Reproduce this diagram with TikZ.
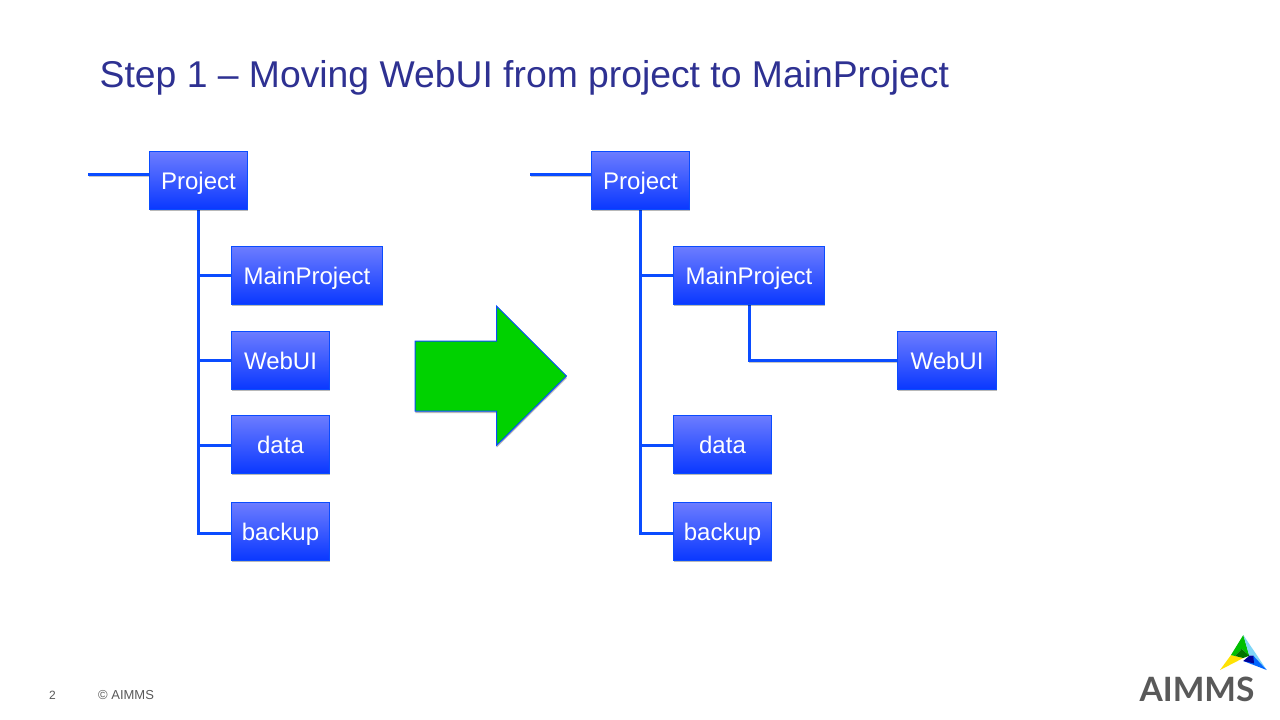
\documentclass[tikz,border=0pt]{standalone}
\usepackage{fontspec}
\setmainfont{Liberation Sans}
\newfontfamily\logofont{Lato}
\usetikzlibrary{shadows}
\definecolor{titleblue}{HTML}{2E3192}
\definecolor{linkblue}{HTML}{0A4CFF}
\definecolor{boxtop}{HTML}{6C7CFF}
\definecolor{boxbottom}{HTML}{0A38FF}
\definecolor{arrowgreen}{HTML}{00D200}
\definecolor{footgray}{HTML}{595959}
\begin{document}
\begin{tikzpicture}[x=1pt, y=-1pt,
    softshadow/.style ={drop shadow={shadow xshift=0.4pt, shadow yshift=-2pt, fill=black, opacity=0.28}},
    folder/.style ={rectangle, draw=linkblue, line width=1pt, top color=boxtop, bottom color=boxbottom,
      text=white, font=\fontsize{24}{28}\selectfont, inner sep=0pt, minimum width=98.5pt, minimum height=57.5pt,
      text height=17pt, text depth=0pt, softshadow},
    widefolder/.style ={folder, minimum width=151.5pt},
    link/.style ={draw=linkblue, line width=3pt, preaction={draw=black, opacity=0.22, transform canvas={xshift=0.6pt, yshift=-1.5pt}}}]
   \useasboundingbox (0,0) rectangle (1280,720);
   \fill[white] (0,0) rectangle (1280,720);
   \node[anchor=base west, text=titleblue, font=\fontsize{37.3}{42}\selectfont, inner sep=0pt] (title) at (99.5,87) {Step 1 -- Moving WebUI from project to MainProject};
   % left tree
   \coordinate (stubL) at (88,174.5);
   \coordinate (forkL) at (198.5,210);
   \coordinate (stubendL) at (149,174.5);
   \draw[link] (stubL) -- (stubendL);
   \draw[link] (forkL) |- (231,533);
   \draw[link] (forkL) |- (231,445);
   \draw[link] (forkL) |- (231,360);
   \draw[link] (forkL) |- (231,275);
   \node[folder] (projectL) at (198.5,180.5)  {Project};
   \node[widefolder] (mainL) at (307,275.5)  {MainProject};
   \node[folder] (webuiL) at (280.5,360.5)  {WebUI};
   \node[folder] (dataL) at (280.5,444.5)  {data};
   \node[folder] (backupL) at (280.5,531.5)  {backup};
   % right tree
   \coordinate (stubR) at (530,174.5);
   \coordinate (forkR) at (640.5,210);
   \coordinate (stubendR) at (591,174.5);
   \draw[link] (stubR) -- (stubendR);
   \draw[link] (forkR) |- (673,533);
   \draw[link] (forkR) |- (673,445);
   \draw[link] (forkR) |- (673,275);
   \draw[link] (749,305) |- (897,360.5);
   \node[folder] (projectR) at (640.5,180.5)  {Project};
   \node[widefolder] (mainR) at (749,275.5)  {MainProject};
   \node[folder] (webuiR) at (947,360.5)  {WebUI};
   \node[folder] (dataR) at (722.5,444.5)  {data};
   \node[folder] (backupR) at (722.5,531.5)  {backup};
   % big arrow
   \draw[draw=linkblue, line width=1pt, fill=arrowgreen, softshadow] (415,341) -- (496.5,341) -- (496.5,306) -- (566.5,376) -- (496.5,445.5) -- (496.5,411) -- (415,411) -- cycle;
   % footer
   \node[anchor=base, text=footgray, font=\fontsize{12}{14}\selectfont, inner sep=0pt] (page) at (52.5,699) {2};
   \node[anchor=base west, text=footgray, font=\fontsize{13}{15}\selectfont, inner sep=0pt] (copy) at (98,699) {© AIMMS};
   % logo
   \fill[yellow!85!orange] (1220,670) -- (1231,655) -- (1243.3,658) -- cycle;
   \fill[green!75!black] (1243.3,635) -- (1231,655) -- (1235,656) -- (1241.7,649) -- (1249.3,655.7) -- cycle;
   \fill[green!45!black] (1241.7,649) -- (1235,656) -- (1243.3,658) -- (1249.3,655.7) -- cycle;
   \fill[cyan!50] (1243.3,635) -- (1266.7,670) -- (1253.3,655.7) -- (1249.3,655.7) -- cycle;
   \fill[blue!60!cyan] (1243.3,661) -- (1266.7,670) -- (1253.3,655.7) -- cycle;
   \fill[blue!60!black] (1249.3,655.7) -- (1243.3,661) -- (1254,663.5) -- (1253.3,655.7) -- cycle;
   \node[anchor=base, text=footgray, font=\logofont\bfseries\fontsize{33.5}{38}\selectfont, inner sep=0pt] (logo) at (1197,701.5) {AIMMS};
 \end{tikzpicture}
\end{document}
